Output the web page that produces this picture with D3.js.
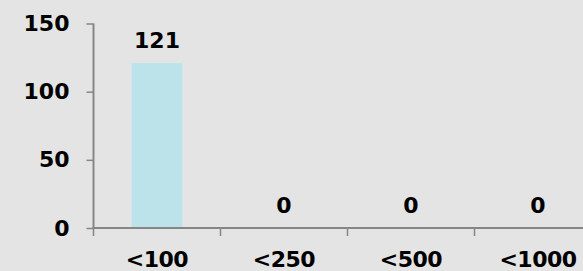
<!DOCTYPE html>
<html>
<head>
<meta charset="utf-8">
<script src="https://cdn.jsdelivr.net/npm/d3@7"></script>
<style>
html,body{margin:0;padding:0;background:#e4e4e4;overflow:hidden;}
svg{display:block;}
text{font-family:"DejaVu Sans",sans-serif;font-weight:bold;fill:#000;}
</style>
</head>
<body>
<svg id="chart" width="583" height="271"></svg>
<script>
const categories = ["<100", "<250", "<500", "<1000"];
const values = [121, 0, 0, 0];
const yTicks = [0, 50, 100, 150];

(function () {
const W = 583, H = 271;
const FS = 22;
const svg = d3.select("#chart");
svg.append("rect").attr("width", W).attr("height", H).attr("fill", "#e4e4e4");

const mLeft = 93.5, mRight = 601.5, mTop = 23.5, mBottom = 228;
const y = d3.scaleLinear().domain([0, 150]).range([mBottom, mTop]);
const xSlots = d3.scaleBand().domain(categories).range([mLeft, mRight]).padding(0);
const xBars = d3.scaleBand().domain(categories).range([mLeft, mRight]).paddingInner(0.6).paddingOuter(0.3);

// bars
svg.selectAll("rect.bar").data(values).enter().append("rect")
  .attr("class", "bar")
  .attr("x", (d, i) => xBars(categories[i]))
  .attr("width", xBars.bandwidth())
  .attr("y", d => y(d))
  .attr("height", d => mBottom - y(d))
  .attr("fill", "#bde3ea");

// y axis
const yAxis = d3.axisLeft(y).tickValues(yTicks).tickSize(7).tickPadding(10);
const gy = svg.append("g").attr("transform", `translate(${mLeft},0)`).call(yAxis);
gy.select(".domain").attr("stroke", "#868686").attr("stroke-width", 2).attr("d", `M0,${mTop}V${mBottom}`);
gy.selectAll(".tick line").attr("stroke", "#868686").attr("stroke-width", 1.5);
gy.selectAll(".tick text").attr("font-size", FS).attr("font-family", "DejaVu Sans").attr("font-weight", "bold").attr("fill", "#000").attr("dx", "-7");

// x axis
const gx = svg.append("g").attr("transform", `translate(0,${mBottom})`);
gx.append("line").attr("x1", mLeft - 1).attr("x2", W).attr("y1", 0).attr("y2", 0)
  .attr("stroke", "#868686").attr("stroke-width", 2);
const boundaries = categories.map(c => xSlots(c)).concat([mRight]);
gx.selectAll("line.tk").data(boundaries).enter().append("line")
  .attr("class", "tk")
  .attr("x1", d => d).attr("x2", d => d).attr("y1", 0).attr("y2", 8)
  .attr("stroke", "#868686").attr("stroke-width", 1.5);
gx.selectAll("text.cat").data(categories).enter().append("text")
  .attr("class", "cat")
  .attr("x", d => xSlots(d) + xSlots.bandwidth() / 2)
  .attr("y", 38.5)
  .attr("text-anchor", "middle")
  .attr("font-size", FS)
  .attr("letter-spacing", -0.5)
  .text(d => d);

// data labels
svg.selectAll("text.val").data(values).enter().append("text")
  .attr("class", "val")
  .attr("x", (d, i) => xSlots(categories[i]) + xSlots.bandwidth() / 2)
  .attr("y", d => y(d) - 15.5)
  .attr("text-anchor", "middle")
  .attr("font-size", FS)
  .text(d => d);
})();
</script>
</body>
</html>
